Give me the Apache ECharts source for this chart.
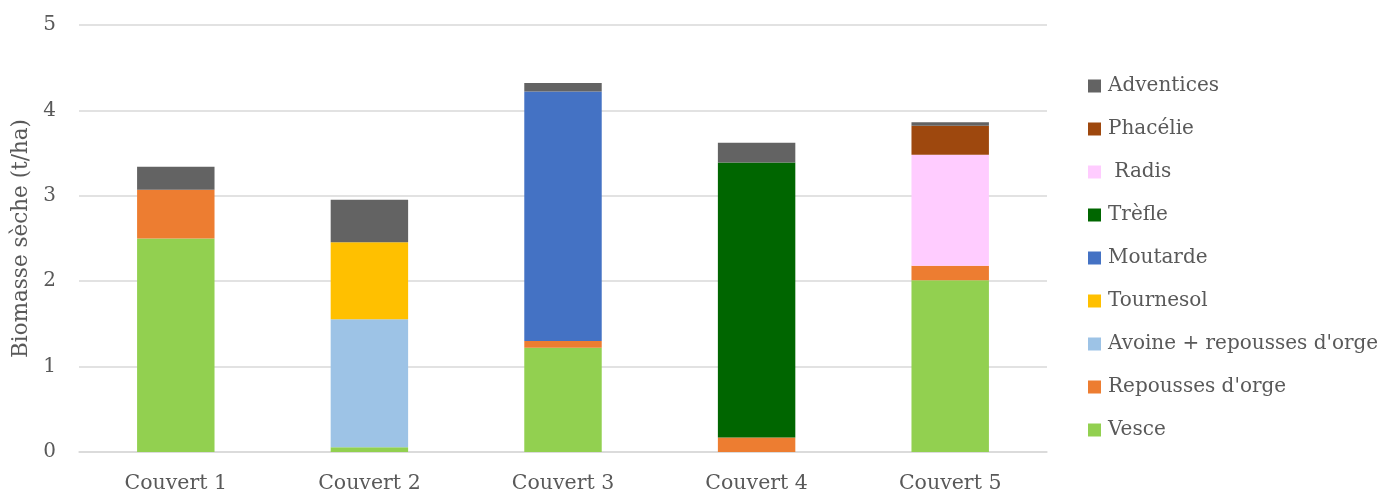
<!DOCTYPE html>
<html>
<head>
<meta charset="utf-8">
<script src="https://cdn.jsdelivr.net/npm/echarts@6/dist/echarts.min.js"></script>
<style>html,body{margin:0;padding:0;background:#fff;}#chart{width:1387px;height:495px;}</style>
</head>
<body>
<div id="chart"></div>
<script>
const categories = ['Couvert 1', 'Couvert 2', 'Couvert 3', 'Couvert 4', 'Couvert 5'];
const yTicks = [0, 1, 2, 3, 4, 5];
const vesce = [2.50, 0.055, 1.22, 0, 2.01];
const repoussesOrge = [0.57, 0, 0.08, 0.17, 0.17];
const avoineRepousses = [0, 1.50, 0, 0, 0];
const tournesol = [0, 0.90, 0, 0, 0];
const moutarde = [0, 0, 2.92, 0, 0];
const trefle = [0, 0, 0, 3.22, 0];
const radis = [0, 0, 0, 0, 1.30];
const phacelie = [0, 0, 0, 0, 0.34];
const adventices = [0.27, 0.50, 0.10, 0.23, 0.04];

const seriesNames = ['Vesce', "Repousses d'orge", "Avoine + repousses d'orge", 'Tournesol', 'Moutarde', 'Trèfle', ' Radis', 'Phacélie', 'Adventices'];
const seriesData = [vesce, repoussesOrge, avoineRepousses, tournesol, moutarde, trefle, radis, phacelie, adventices];
const colors = ['#92D050', '#ED7D31', '#9DC3E6', '#FFC000', '#4472C4', '#006600', '#FFCCFF', '#9E480E', '#636363'];

const FONT = 'DejaVu Serif';
const TXT = '#595959';

const chart = echarts.init(document.getElementById('chart'));
chart.setOption({
  animation: false,
  textStyle: { fontFamily: FONT },
  grid: { left: 79, right: 340, top: 25, bottom: 43, containLabel: false },
  legend: {
    orient: 'vertical',
    left: 1083,
    top: 71,
    itemWidth: 13,
    itemHeight: 13,
    itemGap: 23,
    icon: 'rect',
    textStyle: { fontFamily: FONT, fontSize: 20, lineHeight: 20, color: TXT, padding: [0, 0, 0, 2] },
    data: seriesNames.slice().reverse()
  },
  xAxis: {
    type: 'category',
    data: categories,
    axisTick: { show: false },
    axisLine: { lineStyle: { color: '#d9d9d9', width: 1.5 } },
    axisLabel: { color: TXT, fontSize: 20.5, fontFamily: FONT, margin: 21 }
  },
  yAxis: {
    type: 'value',
    min: yTicks[0],
    max: yTicks[yTicks.length - 1],
    interval: 1,
    name: 'Biomasse sèche (t/ha)',
    nameLocation: 'middle',
    nameGap: 37,
    nameTextStyle: { color: TXT, fontSize: 21.5, fontFamily: FONT },
    axisLabel: { color: TXT, fontSize: 20, fontFamily: FONT, margin: 23 },
    splitLine: { lineStyle: { color: '#d9d9d9', width: 1.5 } },
    axisLine: { show: false },
    axisTick: { show: false }
  },
  series: seriesNames.map((n, i) => ({
    name: n,
    type: 'bar',
    stack: 'total',
    barWidth: '40%',
    data: seriesData[i],
    itemStyle: { color: colors[i] }
  }))
});
</script>
</body>
</html>
